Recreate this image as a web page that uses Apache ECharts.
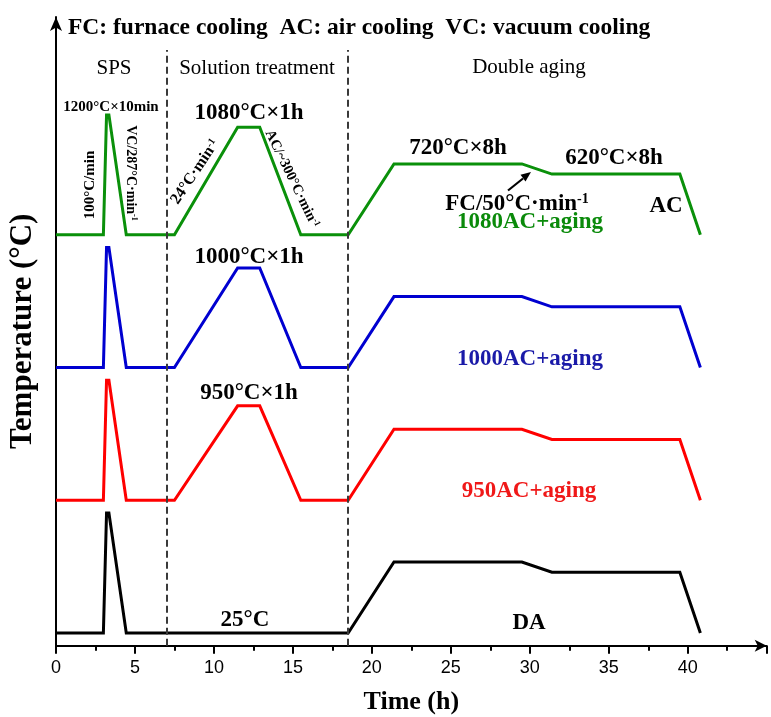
<!DOCTYPE html>
<html>
<head>
<meta charset="utf-8">
<title>Heat treatment schedules</title>
<script src="https://cdn.jsdelivr.net/npm/echarts@6/dist/echarts.min.js"></script>
<style>
  html, body { margin: 0; padding: 0; background: #fff; }
  #chart { width: 771px; height: 717px; }
</style>
</head>
<body>
<div id="chart"></div>
<script>
// Time points (h) shared by every schedule: SPS, solution treatment, double aging
const timeH = [0, 3.0, 3.2, 3.35, 4.45, 7.5, 11.5, 12.9, 15.5, 18.5, 21.4, 29.5, 31.4, 39.5, 40.8];

// Temperature (°C) at each time point
const temp1080 = [25, 25, 1200, 1200, 25, 25, 1080, 1080, 25, 25, 720, 720, 620, 620, 25];
const temp1000 = [25, 25, 1200, 1200, 25, 25, 1000, 1000, 25, 25, 720, 720, 620, 620, 25];
const temp950  = [25, 25, 1200, 1200, 25, 25, 950, 950, 25, 25, 720, 720, 620, 620, 25];
const tempDA   = [25, 25, 1200, 1200, 25, 25, 25, 25, 25, 25, 720, 720, 620, 620, 25];

const scheduleNames = ['1080AC+aging', '1000AC+aging', '950AC+aging', 'DA'];
const xTickLabels = ['0', '5', '10', '15', '20', '25', '30', '35', '40'];
const phaseBounds = [7.0, 18.5];

// Schedules are stacked vertically; each one is lifted by a fixed gap
const STACK_GAP = 1300;
const SERIF = "'Liberation Serif', 'Times New Roman', serif";
const colors = ['#0a900a', '#0000d0', '#ff0000', '#000000'];
const labelColors = ['#0a8a0a', '#1a1aa8', '#f01818', '#000000'];

const chart = echarts.init(document.getElementById('chart'), null, { renderer: 'canvas' });

const allTemps = [temp1080, temp1000, temp950, tempDA];
const lineSeries = allTemps.map((temps, i) => {
  const lift = (allTemps.length - 1 - i) * STACK_GAP;
  return {
    type: 'line',
    name: scheduleNames[i],
    data: timeH.map((t, k) => [t, temps[k] + lift]),
    showSymbol: false,
    symbol: 'none',
    lineStyle: { color: colors[i], width: 3, join: 'miter' },
    z: 3,
    animation: false
  };
});

// Dashed phase boundaries
const boundarySeries = {
  type: 'line',
  data: [],
  silent: true,
  animation: false,
  markLine: {
    silent: true,
    symbol: ['none', 'none'],
    label: { show: false },
    lineStyle: { color: '#3a3a3a', width: 2, type: [7, 4] },
    data: phaseBounds.map(x => [{ coord: [x, -100] }, { coord: [x, 5736] }])
  }
};

function txt(x, y, text, o) {
  o = o || {};
  return {
    type: 'text',
    x: x, y: y,
    rotation: o.rot || 0,
    z: 10,
    style: {
      text: text,
      x: 0, y: 0,
      fill: o.color || '#000',
      fontFamily: SERIF,
      fontSize: o.size || 23,
      fontWeight: o.weight || 'bold',
      align: 'center',
      verticalAlign: 'middle',
      rich: o.rich
    }
  };
}

function supRich(size) {
  return {
    m: { fontFamily: SERIF, fontSize: size, fontWeight: 'bold', fill: '#000' },
    s: { fontFamily: SERIF, fontSize: Math.round(size * 0.6), fontWeight: 'bold', fill: '#000', verticalAlign: 'top' }
  };
}

const deg = Math.PI / 180;
const graphics = [
  { type: 'text', x: 68, y: 27.5, z: 10,
    style: { text: 'FC: furnace cooling  AC: air cooling  VC: vacuum cooling', x: 0, y: 0,
      fill: '#000', fontFamily: SERIF, fontSize: 23.5, fontWeight: 'bold', align: 'left', verticalAlign: 'middle' } },
  txt(114, 68, 'SPS', { size: 21, weight: 'normal' }),
  txt(257, 68, 'Solution treatment', { size: 21, weight: 'normal' }),
  txt(529, 67, 'Double aging', { size: 21, weight: 'normal' }),
  txt(111, 107, '1200°C×10min', { size: 15 }),
  txt(249, 113, '1080°C×1h', { size: 23 }),
  txt(90, 185, '100°C/min', { size: 15, rot: 90 * deg }),
  txt(131, 173, '{m|VC/287°C·min}{s|-1}', { size: 14, rot: -90 * deg, rich: supRich(14) }),
  txt(195, 172, '{m|24°C·min}{s|-1}', { size: 16, rot: 56 * deg, rich: supRich(16) }),
  txt(292, 179, '{m|AC/~300°C·min}{s|-1}', { size: 14.5, rot: -64 * deg, rich: supRich(14.5) }),
  txt(458, 148, '720°C×8h', { size: 23 }),
  txt(614, 158, '620°C×8h', { size: 23 }),
  txt(517, 204, '{m|FC/50°C·min}{s|-1}', { size: 23, rich: supRich(23) }),
  txt(666, 206, 'AC', { size: 23 }),
  txt(530, 222, scheduleNames[0], { size: 23, color: labelColors[0] }),
  txt(249, 257, '1000°C×1h', { size: 23 }),
  txt(530, 359, scheduleNames[1], { size: 23, color: labelColors[1] }),
  txt(249, 393, '950°C×1h', { size: 23 }),
  txt(529, 491, scheduleNames[2], { size: 23, color: labelColors[2] }),
  txt(245, 620, '25°C', { size: 23 }),
  txt(529, 623, scheduleNames[3], { size: 23 }),
  // arrow pointing at the furnace-cooling step
  { type: 'line', z: 10, shape: { x1: 508, y1: 190.5, x2: 523, y2: 178.5 },
    style: { stroke: '#000', lineWidth: 2.2 } },
  { type: 'polygon', z: 10, shape: { points: [[531, 172], [525.5, 181.5], [520.5, 174.8]] },
    style: { fill: '#000' } }
];

const option = {
  backgroundColor: '#ffffff',
  animation: false,
  grid: { left: 56, right: 4.3, top: 16.9, bottom: 71.3, containLabel: false, outerBoundsMode: 'none' },
  xAxis: {
    type: 'value',
    min: 0, max: 45, interval: 5,
    name: 'Time (h)',
    nameLocation: 'middle',
    nameGap: 44,
    nameTextStyle: { fontFamily: SERIF, fontSize: 26, fontWeight: 'bold', color: '#000' },
    axisLine: { show: true, onZero: false, symbol: ['none', 'arrow'], symbolSize: [9, 12],
      lineStyle: { color: '#000', width: 2 } },
    axisTick: { show: true, inside: false, length: 8, lineStyle: { color: '#000', width: 2 } },
    minorTick: { show: true, splitNumber: 2, length: 5, lineStyle: { color: '#000', width: 2 } },
    axisLabel: {
      margin: 13,
      color: '#000',
      fontFamily: "'Liberation Sans Narrow', 'Liberation Sans', Arial, sans-serif",
      fontSize: 18,
      formatter: v => (xTickLabels.indexOf(String(v)) >= 0 ? String(v) : '')
    },
    splitLine: { show: false }
  },
  yAxis: {
    type: 'value',
    min: -100, max: 6060,
    name: 'Temperature (°C)',
    nameLocation: 'middle',
    nameGap: 18,
    nameRotate: 90,
    nameTextStyle: { fontFamily: SERIF, fontSize: 31, fontWeight: 'bold', color: '#000' },
    axisLine: { show: true, onZero: false, symbol: ['none', 'arrow'], symbolSize: [9, 14],
      lineStyle: { color: '#000', width: 2 } },
    axisTick: { show: false },
    axisLabel: { show: false },
    splitLine: { show: false }
  },
  series: [boundarySeries].concat(lineSeries),
  graphic: graphics
};

chart.setOption(option);
</script>
</body>
</html>
